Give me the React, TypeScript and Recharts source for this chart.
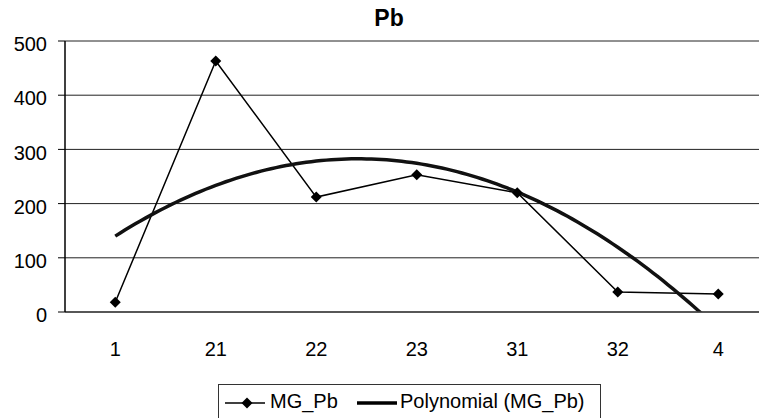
import React from "react";
import { ComposedChart, Line, XAxis, YAxis, CartesianGrid } from "recharts";

const categories = ["1", "21", "22", "23", "31", "32", "4"];
const mgPb = [18, 463, 212, 253, 220, 37, 33];
const yTicks = [0, 100, 200, 300, 400, 500];
const seriesName = "MG_Pb";
const trendName = "Polynomial (MG_Pb)";
const title = "Pb";

// order-2 least-squares polynomial trendline, computed from the data (as Excel does)
function quadFit(ys: number[]) {
  const n = ys.length;
  let s = [0, 0, 0, 0, 0];
  let t = [0, 0, 0];
  ys.forEach((y, i) => {
    const x = i + 1;
    for (let k = 0; k < 5; k++) s[k] += Math.pow(x, k);
    for (let k = 0; k < 3; k++) t[k] += y * Math.pow(x, k);
  });
  const M = [
    [s[0], s[1], s[2], t[0]],
    [s[1], s[2], s[3], t[1]],
    [s[2], s[3], s[4], t[2]],
  ];
  for (let c = 0; c < 3; c++) {
    for (let r = c + 1; r < 3; r++) {
      const f = M[r][c] / M[c][c];
      for (let k = c; k < 4; k++) M[r][k] -= f * M[c][k];
    }
  }
  const coef = [0, 0, 0];
  for (let r = 2; r >= 0; r--) {
    let v = M[r][3];
    for (let k = r + 1; k < 3; k++) v -= M[r][k] * coef[k];
    coef[r] = v / M[r][r];
  }
  void n;
  return (x: number) => coef[0] + coef[1] * x + coef[2] * x * x;
}

const trendFn = quadFit(mgPb);
const seriesData = categories.map((c, i) => ({ x: i + 1, v: mgPb[i] }));
const trendData: { x: number; t: number }[] = [];
for (let k = 0; k <= 120; k++) {
  const x = 1 + (k * 6) / 120;
  trendData.push({ x, t: trendFn(x) });
}

const FONT = "'Liberation Sans', Arial, sans-serif";

const Diamond = (props: any) => {
  const { cx, cy } = props;
  if (cx == null || cy == null) return null;
  const r = 5.5;
  return (
    <polygon
      points={`${cx},${cy - r} ${cx + r},${cy} ${cx},${cy + r} ${cx - r},${cy}`}
      fill="#000"
      stroke="none"
    />
  );
};

export default function App() {
  return (
    <div
      style={{
        position: "absolute",
        left: 0,
        top: 0,
        width: 759,
        height: 418,
        overflow: "hidden",
        background: "#fff",
        fontFamily: FONT,
      }}
    >
      <div
        style={{
          position: "absolute",
          left: 289,
          width: 200,
          top: 4,
          textAlign: "center",
          fontWeight: "bold",
          fontSize: 23,
          lineHeight: "28px",
          color: "#000",
        }}
      >
        {title}
      </div>
      <ComposedChart
        width={780}
        height={418}
        margin={{ top: 41, right: 11.5, bottom: 0, left: 0 }}
        style={{ position: "absolute", left: 0, top: 0 }}
      >
        <CartesianGrid horizontal vertical={false} stroke="#222" strokeWidth={1} />
        <XAxis
          type="number"
          dataKey="x"
          domain={[0.5, 7.5]}
          ticks={[1, 2, 3, 4, 5, 6, 7]}
          tickFormatter={(v: number) => categories[v - 1]}
          interval={0}
          height={106}
          tickLine={false}
          tickSize={0}
          tickMargin={30}
          axisLine={{ stroke: "#444", strokeWidth: 1.5 }}
          tick={{ fill: "#000", fontSize: 20, fontFamily: FONT }}
          allowDataOverflow
        />
        <YAxis
          type="number"
          domain={[0, 500]}
          ticks={yTicks}
          width={65}
          tickSize={7}
          tickMargin={11}
          tickLine={{ stroke: "#000" }}
          axisLine={{ stroke: "#000", strokeWidth: 1.5 }}
          tick={{ fill: "#000", fontSize: 20, fontFamily: FONT, dy: 3 }}
          allowDataOverflow
        />
        <Line
          data={seriesData}
          dataKey="v"
          name={seriesName}
          type="linear"
          stroke="#000"
          strokeWidth={1.5}
          dot={<Diamond />}
          activeDot={false}
          isAnimationActive={false}
        />
        <Line
          data={trendData}
          dataKey="t"
          name={trendName}
          type="linear"
          stroke="#111"
          strokeWidth={3.5}
          dot={false}
          activeDot={false}
          isAnimationActive={false}
        />
      </ComposedChart>
      <div
        style={{
          position: "absolute",
          left: 218,
          top: 384,
          width: 383,
          height: 44,
          border: "1px solid #333",
          boxSizing: "border-box",
          fontSize: 20,
          color: "#000",
        }}
      >
        <svg width={40} height={12} style={{ position: "absolute", left: 6, top: 12 }}>
          <line x1={0} y1={6} x2={40} y2={6} stroke="#000" strokeWidth={1.5} />
          <polygon points="22,0.5 27.5,6 22,11.5 16.5,6" fill="#000" />
        </svg>
        <span style={{ position: "absolute", left: 51, top: 5, lineHeight: "22px" }}>
          {seriesName}
        </span>
        <svg width={40} height={12} style={{ position: "absolute", left: 138, top: 12 }}>
          <line x1={0} y1={6} x2={40} y2={6} stroke="#000" strokeWidth={3.5} />
        </svg>
        <span style={{ position: "absolute", left: 181, top: 5, lineHeight: "22px" }}>
          {trendName}
        </span>
      </div>
    </div>
  );
}
